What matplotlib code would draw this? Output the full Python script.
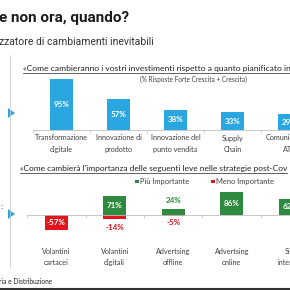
import matplotlib
matplotlib.use("Agg")
import matplotlib.pyplot as plt
from matplotlib.lines import Line2D
from matplotlib.patches import Rectangle, Polygon
from matplotlib import transforms

# data
top_cats = ["Transformazione\ndigitale", "Innovazione di\nprodotto", "Innovazione del\npunto vendita",
            "Supply\nChain", "Comunicazione\nATL"]
top_vals = [95, 57, 38, 33, 29]

bot_cats = ["Volantini\ncartacei", "Volantini\ndigitali", "Advertsing\noffline",
            "Advertsing\nonline", "Siti\ninternet"]
bot_more = [0, 71, 24, 86, 62]
bot_less = [-57, -14, -5, 0, 0]

BLUE = "#2aa7e1"
GREEN = "#2e8a3e"
RED = "#e3141b"
GREY = "#404040"
FONT = "Lato"

W = H = 290
fig = plt.figure(figsize=(2.9, 2.9), dpi=100)


def fx(x):
    return x / W


def fy(y):
    return 1 - y / H


def fitted(x, y, s, width, underline=False, **kw):
    t = fig.text(fx(x), fy(y), s, fontsize=6, va="baseline", **kw)
    fig.canvas.draw()
    bb = t.get_window_extent()
    t.set_fontsize(6 * width / bb.width)
    if underline:
        fig.canvas.draw()
        bb = t.get_window_extent()
        fig.add_artist(Line2D([bb.x0 / W, min(bb.x1, W - 0.5) / W], [fy(y + 1.8)] * 2,
                              lw=0.5, color="#222222"))
    return t


# header
fitted(-1, 22, "e non ora, quando?", 131, fontweight="bold", family="Roboto", color="#1a1a1a")
fitted(-1, 45, "zzatore di cambiamenti inevitabili", 156, family="Roboto", color="#333333")

# left rule and arrows
fig.add_artist(Line2D([fx(10), fx(10)], [fy(55), fy(268)], lw=0.6, color="#cccccc"))
for yc in (113, 214):
    fig.add_artist(Polygon([[fx(8), fy(yc - 5)], [fx(8), fy(yc + 5)], [fx(15), fy(yc)]],
                           closed=True, color=BLUE, lw=0))
fig.text(fx(0), fy(207), ":", fontsize=5, color="#333333", va="center")

# ---- top chart
ax1 = fig.add_axes([fx(33), fy(130), 1 - fx(33), 55 / H])
ax1.bar(range(len(top_vals)), top_vals, width=0.41, color=BLUE)
for i, v in enumerate(top_vals):
    ax1.text(i, v / 2, f"{v}%", color="white", fontsize=5.8, fontweight="bold",
             family=FONT, ha="center", va="center")
tr1 = transforms.blended_transform_factory(ax1.transData, fig.transFigure)
for i, c in enumerate(top_cats):
    ax1.text(i, fy(134.5), c, transform=tr1, ha="center", va="top", fontsize=5.2,
             family=FONT, color=GREY, linespacing=1.7, clip_on=False)

fitted(23, 71, "«Come cambieranno i vostri investimenti rispetto a quanto pianificato in", 268,
       underline=True, family=FONT, color="#222222")
fitted(140, 82, "(% Risposte Forte Crescita + Crescita)", 108, family=FONT, color=GREY)

# ---- bottom chart
ax2 = fig.add_axes([fx(27), fy(235), 1 - fx(27), 50 / H])
x = range(len(bot_cats))
ax2.bar(x, bot_more, width=0.4, color=GREEN)
ax2.bar(x, bot_less, width=0.4, color=RED)
for i, v in enumerate(bot_more):
    if v == 0:
        continue
    if v >= 30:
        ax2.text(i, v / 2, f"{v}%", color="white", fontsize=5.8, fontweight="bold",
                 family=FONT, ha="center", va="center")
    else:
        ax2.annotate(f"{v}%", (i, v), xytext=(0, 6), textcoords="offset points",
                     color=GREEN, fontsize=5.8, fontweight="bold", family=FONT,
                     ha="center", va="center")
for i, v in enumerate(bot_less):
    if v == 0:
        continue
    if v <= -20:
        ax2.text(i, v / 2, f"{v}%", color="white", fontsize=5.8, fontweight="bold",
                 family=FONT, ha="center", va="center")
    else:
        ax2.annotate(f"{v}%", (i, v), xytext=(0, -3.5 - abs(v) * 0.22), textcoords="offset points",
                     color=RED, fontsize=5.8, fontweight="bold", family=FONT,
                     ha="center", va="center")
tr2 = transforms.blended_transform_factory(ax2.transData, fig.transFigure)
for i, c in enumerate(bot_cats):
    ax2.text(i, fy(248), c, transform=tr2, ha="center", va="top", fontsize=5.2,
             family=FONT, color=GREY, linespacing=1.6, clip_on=False)

fitted(20, 171, "«Come cambierà l'importanza delle seguenti leve nelle strategie post-Cov", 270,
       underline=True, family=FONT, color="#222222")

# legend
for lx, col, lab in ((135, GREEN, "Più Importante"), (211, RED, "Meno Importante")):
    fig.add_artist(Rectangle((fx(lx), fy(183)), 3.5 / W, 3.5 / H, color=col, lw=0))
    fig.text(fx(lx + 5), fy(181.5), lab, fontsize=5.4, family=FONT, color=GREY, va="center")

for ax in (ax1, ax2):
    ax.set_facecolor("none")
    for s in ("top", "right", "left"):
        ax.spines[s].set_visible(False)
    ax.spines["bottom"].set_color("#bfbfbf")
    ax.spines["bottom"].set_linewidth(0.6)
    ax.set_yticks([])
    ax.set_xticks([])
    ax.set_xticks([i - 0.5 for i in range(6)], minor=True)
    ax.tick_params(axis="x", which="minor", length=2, width=0.5, color="#bfbfbf", labelbottom=False)

ax1.set_xlim(-0.5, (W - 33) / 57 - 0.5)
ax1.set_ylim(0, 55 / 0.537)
ax2.set_xlim(-0.5, (W - 27) / 58.5 - 0.5)
ax2.set_ylim(-20 / 0.264, 30 / 0.264)
ax2.spines["bottom"].set_position(("data", 0))

# footer
fig.text(fx(-1), fy(284), "ria e Distribuzione", fontsize=4.8, family=FONT, color="#222222", va="baseline")
fig.add_artist(Line2D([0, 1], [fy(288.5)] * 2, lw=1.5, color="#333333"))

fig.savefig("out.png", dpi=100)
